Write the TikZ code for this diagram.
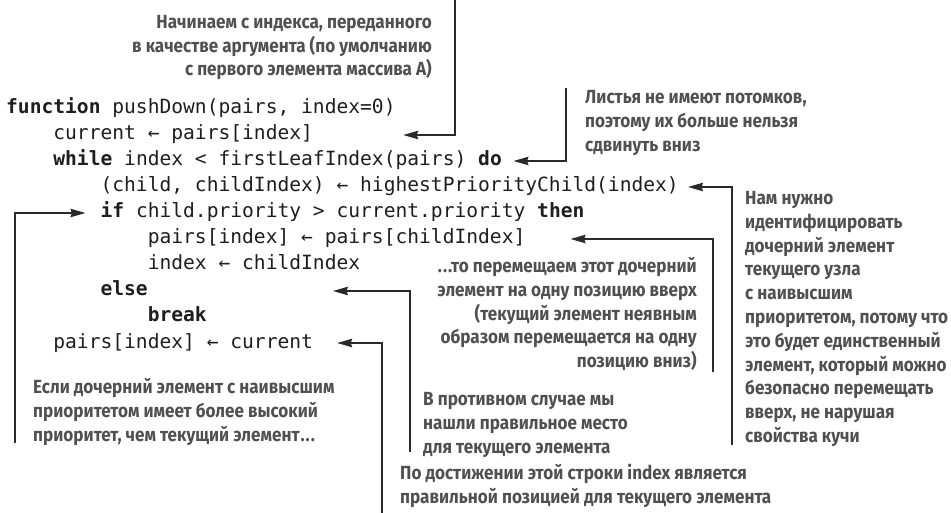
\documentclass[tikz,border=0pt]{standalone}
\usepackage{fontspec}
\usetikzlibrary{arrows.meta}
\newfontfamily\codefont{DejaVu Sans Mono}
\newfontfamily\notefont[FakeStretch=0.9]{Fira Sans}
\definecolor{codeink}{HTML}{1E1E1E}
\definecolor{noteink}{HTML}{505050}
\definecolor{wire}{HTML}{2A2A2A}

\begin{document}
\begin{tikzpicture}[x=1pt,y=-1pt,
  code/.style={anchor=base west, inner sep=0pt,
    font=\codefont\fontsize{19.6}{26}\selectfont, text=codeink,
    text height=14pt, text depth=4pt},
  note/.style={inner sep=0pt,
    font=\notefont\bfseries\fontsize{19}{23.8}\selectfont, text=noteink},
  conn/.style={draw=wire, line width=1.3pt,
    -{Stealth[length=15pt,width=8.5pt,inset=1.5pt]}},
]
\useasboundingbox (0,0) rectangle (951,513);

% pseudocode, one node per line
\node[code] (l1)  at (6,114)     {\textbf{function} pushDown(pairs, index=0)};
\node[code] (l2)  at (53.2,140)  {current ← pairs[index]};
\node[code] (l3)  at (53.2,166)  {\textbf{while} index < firstLeafIndex(pairs) \textbf{do}};
\node[code] (l4)  at (100.4,192) {(child, childIndex) ← highestPriorityChild(index)};
\node[code] (l5)  at (100.4,218) {\textbf{if} child.priority > current.priority \textbf{then}};
\node[code] (l6)  at (147.6,244) {pairs[index] ← pairs[childIndex]};
\node[code] (l7)  at (147.6,270) {index ← childIndex};
\node[code] (l8)  at (100.4,296) {\textbf{else}};
\node[code] (l9)  at (147.6,322) {\textbf{break}};
\node[code] (l10) at (53.2,348)  {pairs[index] ← current};

% annotations (the base anchor sits on the last line)
\node[note, align=right, anchor=base east] (n1) at (432,76)
  {Начинаем с индекса, переданного\\в качестве аргумента (по умолчанию\\с первого элемента массива A)};
\node[note, align=left, anchor=base west] (n2) at (585,151.6)
  {Листья не имеют потомков,\\поэтому их больше нельзя\\сдвинуть вниз};
\node[note, align=left, anchor=base west] (n3) at (745,442.5)
  {Нам нужно\\идентифицировать\\дочерний элемент\\текущего узла\\с наивысшим\\приоритетом, потому что\\это будет единственный\\элемент, который можно\\безопасно перемещать\\вверх, не нарушая\\свойства кучи};
\node[note, align=right, anchor=base east] (n4) at (697,367.7)
  {.\kern1pt.\kern1pt.то перемещаем этот дочерний\\элемент на одну позицию вверх\\(текущий элемент неявным\\образом перемещается на одну\\позицию вниз)};
\node[note, align=left, anchor=base west] (n5) at (33,441.1)
  {Если дочерний элемент с наивысшим\\приоритетом имеет более высокий\\приоритет, чем текущий элемент\kern1pt.\kern1pt.\kern1pt.};
\node[note, align=left, anchor=base west] (n6) at (423,453)
  {В противном случае мы\\нашли правильное место\\для текущего элемента};
\node[note, align=left, anchor=base west] (n7) at (400,503.3)
  {По достижении этой строки index является\\правильной позицией для текущего элемента};

% free ends of the leader lines
\coordinate (e1) at (455,0);
\coordinate (e2) at (566,88);
\coordinate (e3) at (732,445);
\coordinate (e5) at (15,443);
\coordinate (e4) at (713,372);
\coordinate (e6) at (410,452);
\coordinate (e7) at (382,513);

% leader lines
\draw[conn] (e1) |- ([xshift=90pt]l2.east);
\draw[conn] (e2) |- ([xshift=11.5pt]l3.east);
\draw[conn] (e3) |- ([xshift=9pt]l4.east);
\draw[conn] (e5) |- ([xshift=-15pt]l5.west);
\draw[conn] (e4) |- ([xshift=45pt]l6.east);
\draw[conn] (e6) |- ([xshift=185pt]l8.east);
\draw[conn] (e7) |- ([xshift=24pt]l10.east);
\end{tikzpicture}
\end{document}
